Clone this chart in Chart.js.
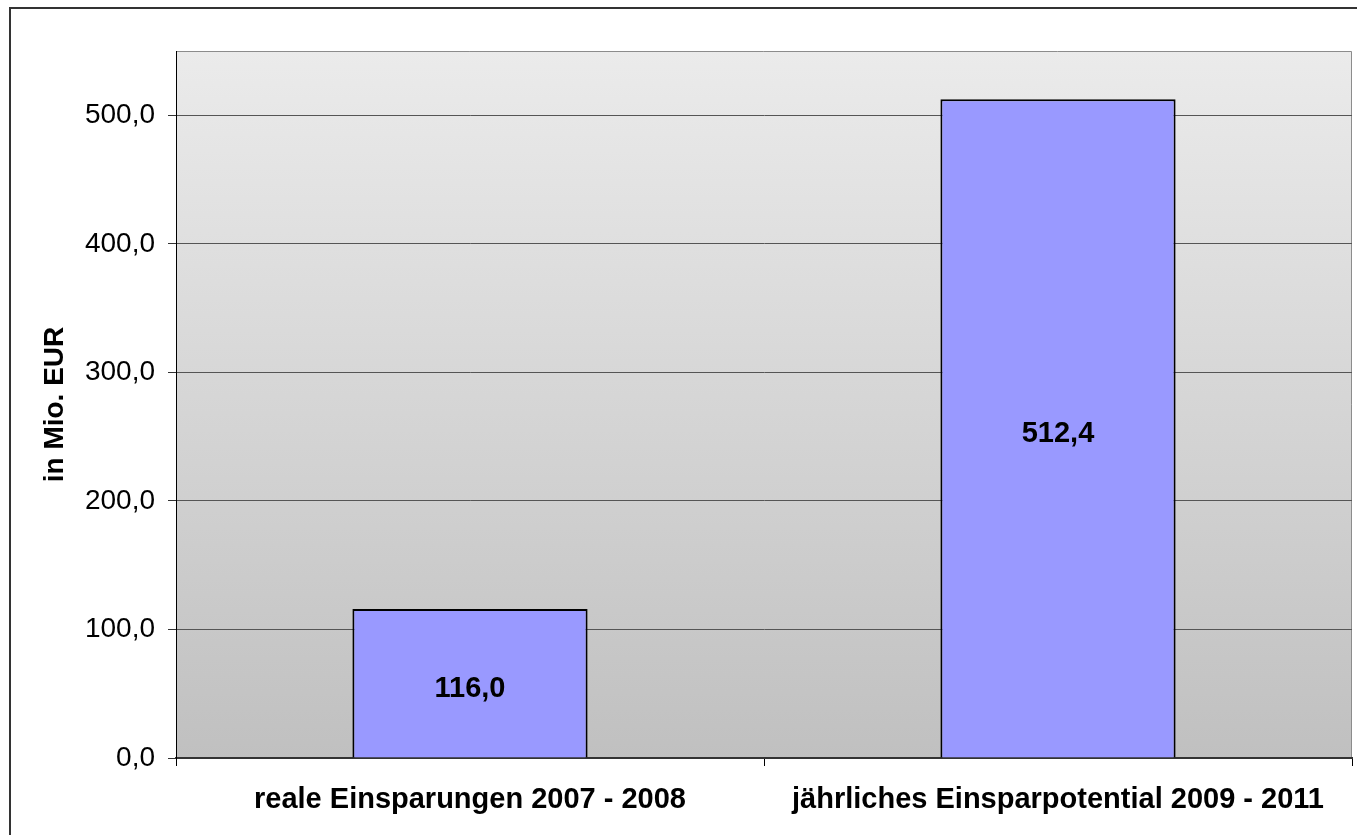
<!DOCTYPE html>
<html>
<head>
<meta charset="utf-8">
<script src="https://cdn.jsdelivr.net/npm/chart.js@4/dist/chart.umd.min.js"></script>
<style>
  html, body { margin: 0; padding: 0; background: #fff; }
  #wrap { width: 1357px; height: 835px; position: relative; }
</style>
</head>
<body>
<div id="wrap"><canvas id="myChart"></canvas></div>
<script>
// data
const labels = ['reale Einsparungen 2007 - 2008', 'jährliches Einsparpotential 2009 - 2011'];
const values = [116.0, 512.4];
const yTicks = [0, 100, 200, 300, 400, 500];

const fmt = v => v.toFixed(1).replace('.', ',');
const FONT = 'Arial, "Liberation Sans", sans-serif';

// gradient plot background + frame
const bgPlugin = {
  id: 'bg',
  beforeDraw(chart) {
    const { ctx, chartArea: a } = chart;
    ctx.save();
    // outer frame
    ctx.strokeStyle = '#333';
    ctx.lineWidth = 2;
    ctx.beginPath();
    ctx.moveTo(10, 840);
    ctx.lineTo(10, 8);
    ctx.lineTo(1360, 8);
    ctx.stroke();
    const g = ctx.createLinearGradient(0, a.top, 0, a.bottom);
    g.addColorStop(0, '#ebebeb');
    g.addColorStop(1, '#c0c0c0');
    ctx.fillStyle = g;
    ctx.fillRect(a.left, a.top, a.right - a.left, a.bottom - a.top);
    ctx.strokeStyle = '#8c8c8c';
    ctx.lineWidth = 1;
    ctx.beginPath();
    ctx.moveTo(a.left, a.top + 0.5);
    ctx.lineTo(a.right - 0.5, a.top + 0.5);
    ctx.lineTo(a.right - 0.5, a.bottom);
    ctx.stroke();
    ctx.restore();
  }
};

// value labels in the bars
const valuePlugin = {
  id: 'values',
  afterDatasetsDraw(chart) {
    const { ctx } = chart;
    const meta = chart.getDatasetMeta(0);
    ctx.save();
    ctx.font = 'bold 29px ' + FONT;
    ctx.fillStyle = '#000';
    ctx.textAlign = 'center';
    ctx.textBaseline = 'middle';
    meta.data.forEach((bar, i) => {
      ctx.fillText(fmt(values[i]), bar.x, (bar.y + bar.base) / 2 + 6);
    });
    ctx.restore();
  }
};

const data = {
  labels: labels,
  datasets: [{
    data: values,
    backgroundColor: '#9999ff',
    borderColor: '#000',
    borderWidth: 2,
    categoryPercentage: 1,
    barPercentage: 0.4
  }]
};

const config = {
  type: 'bar',
  data,
  options: {
    responsive: true,
    maintainAspectRatio: false,
    animation: false,
    layout: { padding: { top: 51, right: 5, bottom: 0, left: 0 } },
    plugins: { legend: { display: false }, tooltip: { enabled: false } },
    scales: {
      x: {
        grid: { drawOnChartArea: false, tickLength: 8, color: '#000' },
        border: { color: '#333', width: 2 },
        ticks: { color: '#000', padding: 17, font: { family: FONT, size: 29, weight: 'bold' }, maxRotation: 0 },
        afterFit(s) { s.height = 77; }
      },
      y: {
        min: 0,
        max: 550,
        afterBuildTicks(s) { s.ticks = yTicks.map(v => ({ value: v })); },
        grid: { color: '#555', tickLength: 8, tickColor: '#333' },
        border: { color: '#000', width: 1 },
        ticks: { color: '#000', padding: 13, font: { family: FONT, size: 28 }, callback: v => fmt(v) },
        title: {
          display: true,
          text: 'in Mio. EUR',
          color: '#000',
          font: { family: FONT, size: 28, weight: 'bold' },
          padding: { top: 38, bottom: 0 }
        },
        afterFit(s) { s.width = 176; }
      }
    }
  },
  plugins: [bgPlugin, valuePlugin]
};

const myChart = new Chart(document.getElementById('myChart'), config);
</script>
</body>
</html>
